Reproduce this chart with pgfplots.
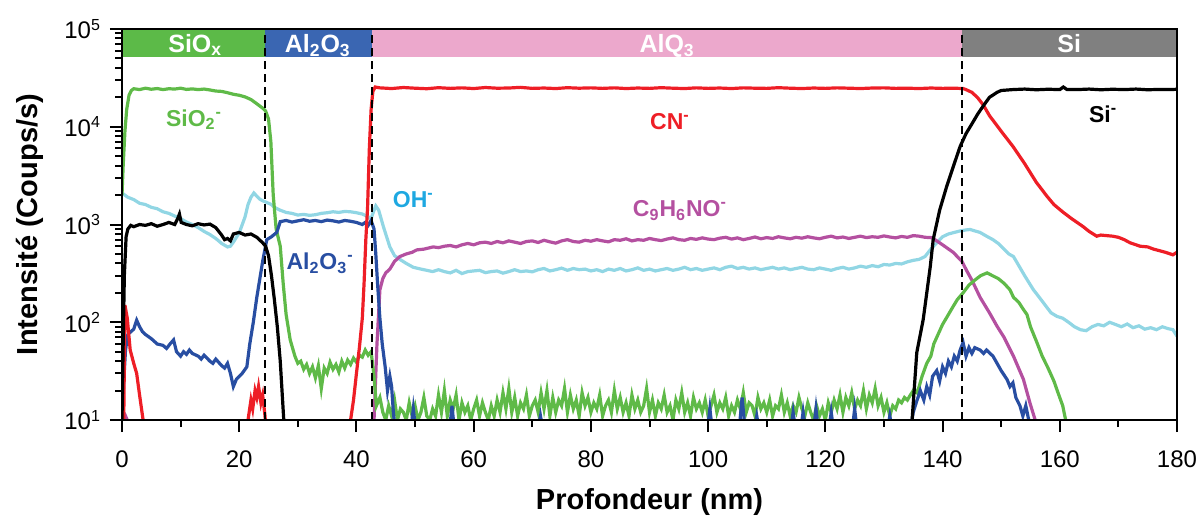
\documentclass[border=0pt]{standalone}
\usepackage{pgfplots}
\pgfplotsset{compat=1.18}
\usepackage{fontspec}
\setmainfont{Liberation Sans}
\definecolor{cgreen}{RGB}{95,186,72}
\definecolor{cred}{RGB}{238,30,38}
\definecolor{ccyan}{RGB}{145,214,228}
\definecolor{cblue}{RGB}{40,78,162}
\definecolor{cmag}{RGB}{180,80,160}
\definecolor{ohblue}{RGB}{30,168,225}
\definecolor{bgreen}{RGB}{92,186,72}
\definecolor{bblue}{RGB}{58,102,178}
\definecolor{bpink}{RGB}{236,168,204}
\definecolor{bgrey}{RGB}{128,128,128}
\begin{document}
\begin{tikzpicture}
\begin{axis}[name=ax, scale only axis, width=527.5pt, height=195.5pt,
  xmin=0, xmax=180, ymin=10, ymax=100000, ymode=log,
  axis on top, clip=true,
  axis line style={line width=1.2pt},
  every tick/.style={black, line width=1pt},
  major tick length=6pt, minor tick length=3.5pt,
  tick align=outside, xtick pos=bottom, ytick pos=left,
  xtick={0,20,...,180}, minor xtick={10,30,...,170},
  ytick={10,100,1000,10000,100000},
  yticklabels={10\textsuperscript{1},10\textsuperscript{2},10\textsuperscript{3},10\textsuperscript{4},10\textsuperscript{5}},
  minor ytick={20,30,40,50,60,70,80,90,200,300,400,500,600,700,800,900,2000,3000,4000,5000,6000,7000,8000,9000,20000,30000,40000,50000,60000,70000,80000,90000},
  /pgf/number format/assume math mode=true,
  ticklabel style={font=\fontsize{12}{12}\selectfont},
  xticklabel style={yshift=-6pt},
  yticklabel style={xshift=-1pt},
  xlabel={\textbf{Profondeur (nm)}},
  ylabel={\textbf{Intensité (Coups/s)}},
  xlabel style={font=\fontsize{14.5}{15}\selectfont, at={(axis description cs:0.5,-0.21)}, anchor=center},
  ylabel style={font=\fontsize{14.5}{15}\selectfont, at={(axis description cs:-0.0872,0.5)}, anchor=center, rotate=0},
]
% bands
\addplot[fill=bgreen, draw=none] coordinates {(0,51600) (24.4,51600) (24.4,100000) (0,100000)} -- cycle;
\addplot[fill=bblue, draw=none] coordinates {(24.4,51600) (42.7,51600) (42.7,100000) (24.4,100000)} -- cycle;
\addplot[fill=bpink, draw=none] coordinates {(42.7,51600) (143.3,51600) (143.3,100000) (42.7,100000)} -- cycle;
\addplot[fill=bgrey, draw=none] coordinates {(143.3,51600) (180,51600) (180,100000) (143.3,100000)} -- cycle;

% cyan OH-
\addplot[ccyan, line width=1.6pt] coordinates {
(0,2100) (1,1900) (2,1800) (3,1650) (4,1600) (5,1500) (6,1450) (7,1350) (8,1300) (9,1220) (10,1150) (11,1060) (12,1000) (13,930) (14,850) (15,790) (16,720) (17,640) (18,590) (18.5,600) (19,660) (20,820) (21,1200) (21.5,1600) (22,1900) (22.5,2100) (23,1950) (23.5,1820) (24,1750) (24.5,1700) (25,1650) (25.5,1600) (26,1500) (27,1400) (28,1330) (29,1300) (30,1250) (31,1270) (32,1240) (33,1260) (34,1300) (35,1320) (36,1350) (37,1330) (38,1360) (39,1350) (40,1320) (41,1280) (42,1200) (42.5,1150) (43,1400) (43.3,1550) (43.8,1400) (44.6,950) (45.7,590) (46.5,480) (47.4,440) (48.5,400) (49.7,365) (51,350) (52,340) (53,330) (54,345) (55,330) (56,320) (57,340) (58,315) (59,330) (60,335) (61,340) (62,322) (63,330) (64,335) (65,318) (66,330) (67,345) (68,330) (69,335) (70,328) (71,345) (72,355) (73,335) (74,345) (75,358) (76,340) (77,355) (78,345) (79,350)
(80,335) (81,345) (82,330) (83,350) (84,340) (85,355) (86,335) (87,345) (88,360) (89,340) (90,350) (91,335) (92,345) (93,355) (94,340) (95,350) (96,365) (97,345) (98,355) (99,340) (100,350) (101,360) (102,345) (103,365) (104,375) (105,355) (106,365) (107,350) (108,360) (109,345) (110,355) (111,365) (112,350) (113,360) (114,345) (115,355) (116,365) (117,350) (118,345) (119,360) (120,350) (121,340) (122,355) (123,365) (124,350) (125,360) (126,375) (127,365) (128,380) (129,370) (130,390) (131,385) (132,400) (133,395) (134,415) (135,430) (136,440) (137,470) (138,560) (139,650) (140,750) (141,800) (142,830) (143,860) (144,880) (144.7,890) (145.5,860) (146.4,830) (147.5,760) (148.6,700) (149.5,640) (150.5,560) (151.3,500) (152.1,470) (153,380) (154,300) (155,240) (155.5,215) (156.5,180) (157.5,150) (158.5,125) (159.5,115) (160.5,110) (161.5,100) (162.5,90) (163.5,84) (164.5,82) (165.5,90) (166.5,95) (167.5,92) (168.5,100) (169.5,95) (170.5,90) (171.5,96) (172.5,88) (173.5,92) (174.5,85) (175.5,88) (176.5,84) (177.5,90) (178.5,86) (179.3,84) (180,72)};

% magenta C9H6NO-
\addplot[cmag, line width=1.6pt] coordinates {
(0,5) (0.3,10) (0.6,11) (0.9,10) (1.1,5) (42.8,5) (43,10) (43.5,60) (44,215) (44.5,280) (45,320) (45.7,350) (46.5,420) (47.4,470) (48.5,500) (49.5,520) (50.3,550) (51.5,560) (53.1,590) (54,580) (55,600) (56,610) (57,590) (58,620) (59,640) (60,620) (61,650)
(62,660) (63,640) (64,670) (65,650) (66,680) (67,660) (68,640) (69,670) (70,680) (71,655) (72,690) (73,665) (74,645) (75,680) (76,700) (77,670) (78,660) (79,690) (80,675) (81,700) (82,680) (83,665) (84,700) (85,690) (86,715) (87,680) (88,700) (89,690) (90,720) (91,700) (92,685) (93,710) (94,730) (95,700) (96,690) (97,720) (98,705) (99,730) (100,710) (101,700) (102,725) (103,740) (104,710) (105,730) (106,700) (107,720) (108,745) (109,715) (110,735) (111,720) (112,750) (113,730) (114,715) (115,740) (116,725) (117,750) (118,730) (119,715) (120,740) (121,760) (122,730) (123,745) (124,720) (125,740) (126,760) (127,735) (128,750) (129,740) (130,765) (131,745) (132,730) (133,755) (134,740) (135,770) (136,760) (137,740) (138,735) (138.4,720) (140,620) (141.8,520) (143.3,420) (144.2,330) (145,270) (146.4,180) (148,125) (149.3,91) (150.5,70) (152.1,45) (153.8,26) (154.9,15) (155.8,10) (156.2,5)};

% green SiO2-
\addplot[cgreen, line width=1.6pt] coordinates {
(0,2000) (0.2,4000) (0.5,9000) (0.8,15000) (1.2,21000) (1.6,23500) (2,24500) (3,24000) (4,24800) (5,24200) (6,24600) (7,24000) (8,24500) (9,24300) (10,24800) (11,24100) (12,24400) (13,24000) (14,24300) (15,23800) (16,23200) (17,23000) (18,22300) (19,21500) (20,21000) (21,20200) (22,19000) (23,17200) (24,15500) (24.5,14500) (25,12000) (25.4,7000) (25.8,2000) (26.3,900) (27,600) (27.5,250) (28,120) (28.7,66) (29.5,45) (30,38) (30.5,40) (31,33) (31.5,37) (32,30) (32.5,35) (33,27) (33.5,36) (34,21) (34.5,34) (35,30) (35.5,39) (36,33) (36.5,37) (37,31) (37.5,40) (38,34) (38.5,41) (39,37) (39.5,43) (40,39) (40.5,46) (41,44) (41.5,52) (42,46) (42.5,50) (43,28) (43.4,14)
(44.0,17) (44.5,12) (45.0,10) (45.5,14) (46.0,11) (46.5,16) (47.0,10) (47.5,13) (48.0,12) (48.5,10) (49.0,15) (49.5,11) (50.0,14) (50.5,10) (51.0,12) (51.5,17) (52.0,11) (52.5,10) (53.0,13) (53.5,11) (54.0,18) (54.5,12) (55.0,20) (55.5,11) (56.0,16) (56.5,13) (57.0,18) (57.5,10) (58.0,15) (58.5,12) (59.0,14) (59.5,10) (60.0,13) (60.5,16) (61.0,11) (61.5,15) (62.0,12) (62.5,10) (63.0,14) (63.5,11) (64.0,16) (64.5,12) (65.0,19) (65.5,13) (66.0,21) (66.5,12) (67.0,17) (67.5,11) (68.0,15) (68.5,13) (69.0,18) (69.5,11) (70.0,14) (70.5,16) (71.0,12) (71.5,19) (72.0,13) (72.5,20) (73.0,11) (73.5,17) (74.0,12) (74.5,16) (75.0,14) (75.5,21) (76.0,12) (76.5,18) (77.0,13) (77.5,16) (78.0,11) (78.5,19) (79.0,14) (79.5,17) (80.0,12) (80.5,15) (81.0,13) (81.5,18) (82.0,11) (82.5,14) (83.0,16) (83.5,12) (84.0,20) (84.5,13) (85.0,17) (85.5,12) (86.0,15) (86.5,11) (87.0,18) (87.5,13) (88.0,16) (88.5,12) (89.0,14) (89.5,21) (90.0,12) (90.5,16) (91.0,11) (91.5,15) (92.0,13) (92.5,18) (93.0,12) (93.5,14) (94.0,10) (94.5,16) (95.0,13) (95.5,19) (96.0,12) (96.5,15) (97.0,11) (97.5,17) (98.0,13) (98.5,15) (99.0,12) (99.5,16) (100.0,11) (100.5,14) (101.0,18) (101.5,12) (102.0,15) (102.5,13) (103.0,17) (103.5,11) (104.0,14) (104.5,12) (105.0,16) (105.5,13) (106.0,19) (106.5,12) (107.0,15) (107.5,14) (108.0,11) (108.5,17) (109.0,13) (109.5,15) (110.0,12) (110.5,16) (111.0,11) (111.5,14) (112.0,13) (112.5,18) (113.0,12) (113.5,15) (114.0,11) (114.5,14) (115.0,12) (115.5,17) (116.0,13) (116.5,11) (117.0,15) (117.5,12) (118.0,10) (118.5,14) (119.0,11) (119.5,13) (120.0,10) (120.5,15) (121.0,12) (121.5,16) (122.0,13) (122.5,18) (123.0,12) (123.5,17) (124.0,14) (124.5,19) (125.0,13) (125.5,16) (126.0,14) (126.5,20) (127.0,13) (127.5,18) (128.0,15) (128.5,21) (129.0,14) (129.5,17) (130.0,12) (130.5,15) (131.0,11) (131.5,14) (132.0,13) (132.5,16) (133.0,15) (133.5,17) (134.0,16) (134.5,18)
(135,20) (135.6,19) (136,22) (136.5,28) (137.3,38) (138,45) (138.5,60) (139,70) (140,95) (141,120) (141.8,145) (142.5,170) (143.5,200) (144.5,240) (145.5,270) (146.5,300) (147.6,320) (148.5,300) (149.5,280) (150.5,250) (151.5,215) (152.1,180) (153,160) (153.8,135) (154.4,120) (155,90) (156.1,62) (157,45) (158,34) (159,25) (159.7,19) (160.5,14) (161,10) (161.3,5)};

% blue Al2O3-
\addplot[cblue, line width=1.6pt] coordinates {
(0,10) (0.3,25) (0.6,52) (1,75) (1.5,80) (2,85) (2.5,105) (3,90) (3.5,80) (4,75) (5,68) (6,60) (7,58) (7.6,54) (8.2,60) (8.8,66) (9.3,50) (10,45) (10.5,50) (11,47) (11.5,52) (12,48) (13,45) (13.5,42) (14,46) (15,40) (15.5,38) (16,42) (17,36) (17.5,34) (18,38) (18.5,30) (19,22) (19.5,26) (20,28) (20.5,30) (21.3,35) (21.8,60) (22.4,100) (23,180) (23.5,275) (24,420) (24.7,700) (25.5,750) (26.4,830) (27,1070) (28,1100) (29,1060) (30,1090) (31,1120) (32,1080) (33,1100) (34,1070) (35,1110) (36,1090) (37,1060) (38,1100) (39,1080) (40,1050) (41,1000) (41.5,1050) (42,980) (42.5,1100) (43,900) (43.3,500) (43.6,250) (44,110) (44.4,60) (44.9,35) (45.3,20) (45.7,28) (46,22) (46.3,12) (46.6,8)
(49.3,8) (49.7,13) (50.1,8) (55.9,8) (56.3,14) (56.7,8) (71,8) (71.4,11) (71.8,8) (99.9,8) (100.3,13) (100.7,8) (105.3,8) (105.8,17) (106.3,8) (107.9,8) (108.3,11) (108.7,8) (114.1,8) (114.5,12) (114.9,8) (115.8,8) (116.2,12) (116.6,8) (118,8) (118.4,13) (118.8,8) (120.6,8) (121,12) (121.4,8) (124.6,8) (125,13) (125.4,8) (130.6,8) (131,11) (131.4,8) (134.5,8)
(135,12) (135.5,15) (136.2,20) (136.8,16) (137.3,22) (137.8,18) (138.3,28) (139,32) (139.5,25) (140,35) (140.5,30) (141,40) (141.5,35) (142,45) (142.5,40) (143,52) (143.5,62) (144,45) (144.5,55) (145,48) (145.5,55) (146.4,52) (147,48) (147.5,52) (148.6,45) (149.3,38) (150,32) (151,26) (151.5,22) (152,24) (152.5,17) (153.2,14) (153.7,11) (154.2,14) (154.7,10) (155,8)};

% red CN-
\addplot[cred, line width=1.6pt] coordinates {
(0.3,10) (0.5,150) (0.9,110) (1.4,52) (2,38) (2.5,30) (3,18) (3.6,10) (4,5) (21,5) (21.5,10) (22,16) (22.3,13) (22.7,20) (23,17) (23.3,22) (23.7,15) (24,18) (24.4,11) (24.8,5) (38.5,5) (39,10) (39.5,16) (40,30) (40.5,55) (41,110) (41.3,250) (41.6,700) (41.9,1500) (42.2,6000) (42.5,15000) (42.8,23000) (43.2,25500) (44,25000) (46,24600) (48,25200) (50,24800) (52,24500) (54,25100) (56,24700) (58,25000) (60,24600) (62,25200) (64,24800) (66,24900) (68,25300) (70,24700) (72,24900) (74,24600) (76,25100) (78,24800) (80,25000) (82,24700) (84,25000) (86,24600) (88,24900) (90,24700) (92,25100) (94,24800) (96,24600) (98,25000) (100,24700) (102,24900) (104,24600) (106,25000) (108,24800) (110,24700) (112,25100) (114,24800) (116,24600) (118,24900) (120,24700) (122,25000) (124,24800) (126,24600) (128,24900) (130,25000) (132,24700) (134,24800) (136,24600) (138,24900) (140,24700) (142,24800) (143.5,24600)
(144,24000) (145,22500) (146,19800) (147,16500) (148,13000) (150,9000) (152,6300) (154,4200) (156,2700) (157.8,1950) (159,1600) (160.6,1330) (162,1150) (164,950) (165,850) (166.3,760) (167,780) (169,760) (170,740) (171,700) (172,650) (173.7,600) (175,590) (176,560) (177,540) (178,520) (179.3,490) (180,520)};

% black Si-
\addplot[black, line width=1.6pt] coordinates {
(0,10) (0.2,60) (0.4,300) (0.7,750) (1,900) (1.5,980) (2,950) (3,1000) (4,980) (5,1020) (6,960) (7,1000) (8,1050) (9,1000) (9.5,1150) (9.8,1280) (10.1,1050) (11,1000) (12,970) (13,1020) (14,990) (15,1010) (16,930) (17,780) (17.5,700) (18,720) (18.5,680) (19,800) (20,830) (21,780) (22,800) (23,740) (24,650) (24.5,600) (25,480) (25.5,300) (26,170) (26.5,90) (27,40) (27.3,20) (27.6,10) (28,5) (134.5,5) (134.8,10) (135.6,49) (136.7,107) (137.9,370) (138.4,700) (139.5,1400) (140.7,2450) (142,4200) (143,6300) (144,8500) (145.2,11200) (146,13500) (146.9,16200) (148,20000) (149.3,22500) (150,23500) (152,24000) (154,24300) (156,23900) (158,24200) (160,24000) (160.6,25500) (161.2,24100) (163,24000) (165,24300) (167,23900) (169,24200) (171,24000) (173,24300) (175,23900) (177,24100) (179,24000) (180,24200)};

% dashed separators
\addplot[black, line width=1pt, dash pattern=on 4pt off 2.5pt] coordinates {(24.4,10) (24.4,100000)};
\addplot[black, line width=1pt, dash pattern=on 4pt off 2.5pt] coordinates {(42.7,10) (42.7,100000)};
\addplot[black, line width=1pt, dash pattern=on 4pt off 2.5pt] coordinates {(143.3,10) (143.3,100000)};

% band labels
\begin{scope}[every node/.style={anchor=base, text=white, font=\bfseries\fontsize{12.5}{13}\selectfont}]
\node at (axis cs:12.5,58100) {SiO\textsubscript{x}};
\node at (axis cs:33.4,58100) {Al\textsubscript{2}O\textsubscript{3}};
\node at (axis cs:93,58100) {AlQ\textsubscript{3}};
\node at (axis cs:161.6,58100) {Si};
\end{scope}
% curve labels
\begin{scope}[every node/.style={anchor=base, font=\bfseries\fontsize{11.5}{12}\selectfont}]
\node[text=cgreen] at (axis cs:12.3,10100) {SiO\textsubscript{2}\textsuperscript{-}};
\node[text=cred] at (axis cs:93.5,9400) {CN\textsuperscript{-}};
\node[text=black] at (axis cs:167.4,11100) {Si\textsuperscript{-}};
\node[text=ohblue] at (axis cs:49.7,1490) {OH\textsuperscript{-}};
\node[text=cmag] at (axis cs:95.2,1210) {C\textsubscript{9}H\textsubscript{6}NO\textsuperscript{-}};
\node[text=cblue] at (axis cs:33.8,347) {Al\textsubscript{2}O\textsubscript{3}\textsuperscript{-}};
\end{scope}
\end{axis}
\pgfresetboundingbox
\path (ax.south west) ++(-61pt,-50pt) coordinate (bl);
\path (ax.north east) ++(12pt,14.5pt) coordinate (tr);
\useasboundingbox (bl) rectangle (tr);
\end{tikzpicture}
\end{document}
